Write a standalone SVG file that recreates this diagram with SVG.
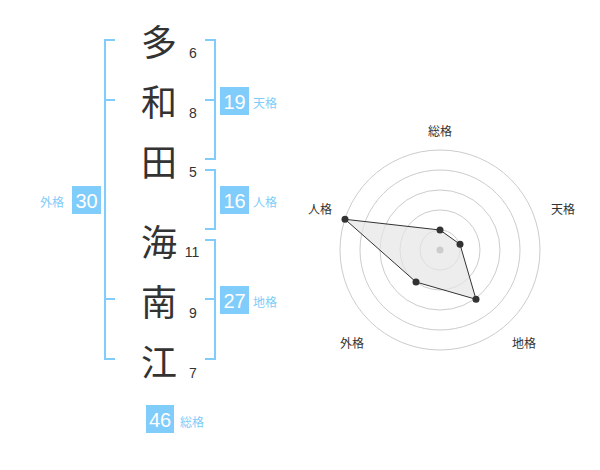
<svg xmlns="http://www.w3.org/2000/svg" width="600" height="470" viewBox="0 0 600 470">
<style>
.kanji{font-family:"Noto Sans CJK JP","Noto Sans",sans-serif;font-size:36px;fill:#333;text-anchor:middle;dominant-baseline:central}
.num{font-family:"Liberation Sans",Arial,sans-serif;font-size:14px;fill:#333;text-anchor:middle;dominant-baseline:central}
.br{fill:none;stroke:#80ccfa;stroke-width:2}
.box{fill:#80ccfa}
.bt{font-family:"Liberation Sans",Arial,sans-serif;font-size:20px;fill:#fff;text-anchor:middle;dominant-baseline:central}
.bl{font-family:"Noto Sans CJK JP",sans-serif;font-size:12px;fill:#80ccfa;dominant-baseline:central}
.ring{fill:none;stroke:#ccc;stroke-width:1}
.rl{font-family:"Noto Sans CJK JP",sans-serif;font-size:12px;fill:#333;text-anchor:middle;dominant-baseline:central}
.dot{fill:#333}
</style>
<rect width="600" height="470" fill="#fff"/>
<g id="connectors">
<path class="br" d="M115,40 H105 V359 H115 M105,100 H115 M105,299 H115"/>
<path class="br" d="M205,40 H215 V159 H205 M215,100 H205"/>
<path class="br" d="M205,170 H215 V229 H205"/>
<path class="br" d="M205,240 H215 V359 H205 M215,299 H205"/>
</g>
<g id="name">
<text class="kanji" x="159" y="40">多</text>
<text class="kanji" x="159" y="100">和</text>
<text class="kanji" x="159" y="160">田</text>
<text class="kanji" x="159" y="240">海</text>
<text class="kanji" x="159" y="300">南</text>
<text class="kanji" x="159" y="360">江</text>
<text class="num" x="193" y="53">6</text>
<text class="num" x="193" y="113">8</text>
<text class="num" x="193" y="172">5</text>
<text class="num" x="192" y="252">11</text>
<text class="num" x="193" y="313">9</text>
<text class="num" x="193" y="373">7</text>
</g>
<g id="tenkaku">
<rect class="box" x="220" y="87" width="29" height="28"/>
<text class="bt" x="234.5" y="101.5">19</text>
<text class="bl" x="253" y="102">天格</text>
</g>
<g id="jinkaku">
<rect class="box" x="220" y="186" width="29" height="28"/>
<text class="bt" x="234.5" y="200.5">16</text>
<text class="bl" x="253" y="201">人格</text>
</g>
<g id="chikaku">
<rect class="box" x="220" y="286" width="29" height="28"/>
<text class="bt" x="234.5" y="300.5">27</text>
<text class="bl" x="253" y="301">地格</text>
</g>
<g id="gaikaku">
<rect class="box" x="72" y="186" width="29" height="28"/>
<text class="bt" x="86.5" y="200.5">30</text>
<text class="bl" x="40" y="201">外格</text>
</g>
<g id="soukaku">
<rect class="box" x="146" y="405" width="28" height="28"/>
<text class="bt" x="160" y="419.5">46</text>
<text class="bl" x="180" y="421">総格</text>
</g>
<g id="radar">
<circle class="ring" cx="440" cy="250" r="20"/>
<circle class="ring" cx="440" cy="250" r="40"/>
<circle class="ring" cx="440" cy="250" r="60"/>
<circle class="ring" cx="440" cy="250" r="80"/>
<circle class="ring" cx="440" cy="250" r="100"/>
<polygon points="440,230 460,244.3 476,299.3 416,282 345,219.3" fill="#e6e6e6" fill-opacity="0.7" stroke="#333" stroke-width="1"/>
<circle cx="440" cy="250" r="3.5" fill="#ccc"/>
<circle class="dot" cx="440" cy="230" r="3.5"/>
<circle class="dot" cx="460" cy="244.3" r="3.5"/>
<circle class="dot" cx="476" cy="299.3" r="3.5"/>
<circle class="dot" cx="416" cy="282" r="3.5"/>
<circle class="dot" cx="345" cy="219.3" r="3.5"/>
<text class="rl" x="440" y="130">総格</text>
<text class="rl" x="563" y="208">天格</text>
<text class="rl" x="524" y="342">地格</text>
<text class="rl" x="352" y="342">外格</text>
<text class="rl" x="320" y="208">人格</text>
</g>
</svg>
